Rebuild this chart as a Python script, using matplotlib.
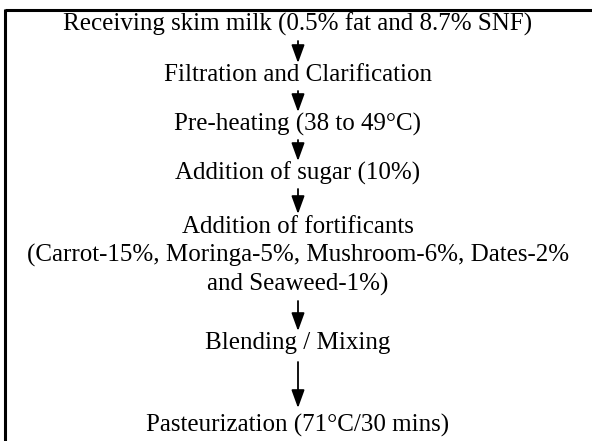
import matplotlib
matplotlib.use("Agg")
import matplotlib.pyplot as plt

steps = [
    "Receiving skim milk (0.5% fat and 8.7% SNF)",
    "Filtration and Clarification",
    "Pre-heating (38 to 49\u00b0C)",
    "Addition of sugar (10%)",
    "Addition of fortificants\n(Carrot-15%, Moringa-5%, Mushroom-6%, Dates-2%\nand Seaweed-1%)",
    "Blending / Mixing",
    "Pasteurization (71\u00b0C/30 mins)",
]
text_y = [24, 75, 124, 173, 256, 343, 425]
arrows = [(41, 63), (91, 112), (140, 161), (189, 214), (301, 331), (362, 408)]

fig = plt.figure(figsize=(5.92, 4.41), dpi=100)
ax = fig.add_axes([0, 0, 1, 1])
ax.set_xlim(0, 592)
ax.set_ylim(441, 0)
ax.axis("off")

# border (top and left visible)
ax.plot([4.5, 592], [10, 10], color="black", lw=2.2, solid_capstyle="butt")
ax.plot([4.5, 4.5], [9, 441], color="black", lw=2.2, solid_capstyle="butt")

cx = 298
for s, y in zip(steps, text_y):
    ax.text(cx, y, s, ha="center", va="center", fontsize=18,
            family="Liberation Serif", linespacing=1.32)

for y0, y1 in arrows:
    ax.annotate("", xy=(cx, y1), xytext=(cx, y0),
                arrowprops=dict(arrowstyle="-|>,head_length=1.1,head_width=0.4",
                                color="black", lw=1.3, shrinkA=0, shrinkB=0))

fig.savefig("out.png", dpi=100)
